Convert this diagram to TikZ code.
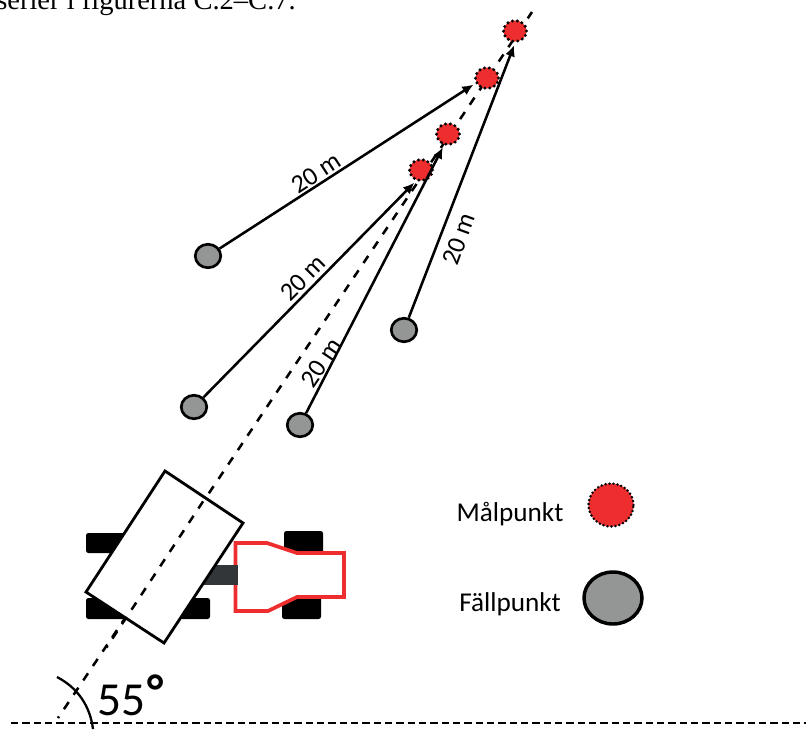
\documentclass[tikz,border=0pt]{standalone}
\usepackage{fontspec}
\setmainfont{Carlito}
\newfontfamily\bodyserif{Liberation Serif}
\usetikzlibrary{arrows.meta,shapes.geometric}
\definecolor{targetred}{HTML}{EE2E2E}
\definecolor{dropgray}{HTML}{949696}
\definecolor{hitchgray}{HTML}{333638}
\definecolor{frontred}{HTML}{EE2E2E}
\tikzset{
  target/.style={ellipse,inner sep=0pt,minimum width=23*0.75pt,minimum height=21*0.75pt,fill=targetred,
    draw=black,line width=2.5pt,line cap=round,dash pattern=on 0pt off 3.7pt},
  drop/.style={ellipse,inner sep=0pt,minimum width=25.5*0.75pt,minimum height=23.5*0.75pt,fill=dropgray,draw=black,line width=2pt},
  run/.style={line width=1.9pt,black,-{Latex[length=8.5pt,width=7.5pt]},shorten >=1.5pt},
  guide/.style={line width=1.9pt,black,dash pattern=on 6.4pt off 6.6pt,dash phase=5pt},
  base line/.style={line width=2pt,black,dash pattern=on 5.4pt off 3.1pt},
  tyre/.style={fill=black,rounded corners=1.8pt},
  dist/.style={font=\fontsize{19.5}{21}\selectfont,inner sep=0pt},
  legendlabel/.style={font=\fontsize{20.4}{23}\selectfont,inner sep=0pt}
}
\begin{document}
\begin{tikzpicture}[x=0.75pt,y=-0.75pt]
\useasboundingbox (0,0) rectangle (806,729);
% clipped line of running text above the figure
\begin{scope}
\clip (0,0) rectangle (806,729);
\node[anchor=base west,inner sep=0pt,font=\bodyserif\fontsize{21.4}{24}\selectfont] (caption) at (-4,9) {serier i figurerna C.2–C.7.};
\end{scope}

% reference lines and angle
\coordinate (gs) at (58,718);
\coordinate (ge) at (532,12);
\coordinate (hs) at (11,723);
\coordinate (he) at (806,723);
\draw[guide] (gs) -- (ge);
\draw[base line] (hs) -- (he);
\draw[line width=1.7pt] (57,677) .. controls (78,688) and (90,706) .. (93,729);
\node[anchor=base west,inner sep=0pt,font=\fontsize{35.5}{40}\selectfont] (angle) at (97,715) {55\kern2pt\raisebox{6pt}{\bfseries °}};

% tractor
\fill[tyre] (86,533) rectangle (130,553);
\fill[tyre] (86,598) rectangle (210,619);
\fill[tyre] (284,531) rectangle (323,556);
\fill[tyre] (282,592) rectangle (321,619);
\draw[line width=2.8pt,frontred,fill=white,line join=miter] (235.5,543) -- (267,543) -- (297,553) -- (344,553) -- (344,597) -- (297,597) -- (268,611) -- (235.5,611) -- cycle;
\fill[hitchgray] (203,565) rectangle (238,585);

% implement, with the driving line across it
\draw[line width=2.1pt,fill=white,line join=miter] (165,471) -- (243,523) -- (164,643) -- (86,592) -- cycle;
\draw[guide] (106.5,647.5) -- (204,500);

% drop points and target points
\node[target] (t1) at (515,31) {};
\node[target] (t2) at (487,78) {};
\node[target] (t3) at (448,134) {};
\node[target] (t4) at (421,170) {};
\node[drop] (d1) at (208,256) {};
\node[drop] (d2) at (194,407) {};
\node[drop] (d3) at (300,425) {};
\node[drop] (d4) at (404,330) {};
\draw[run] (d1) -- (t2.205);
\draw[run] (d2) -- (t4.245);
\draw[run] (d3) -- (t3.250);
\draw[run] (d4) -- (t1.south);

% distance labels
\node[dist,rotate=33] (l1) at (316,173) {20 m};
\node[dist,rotate=45] (l2) at (303,278) {20 m};
\node[dist,rotate=56] (l3) at (321,363) {20 m};
\node[dist,rotate=70] (l4) at (459,239) {20 m};

% legend
\node[legendlabel] (lt) at (510,514) {Målpunkt};
\node[legendlabel] (ld) at (510,604) {Fällpunkt};
\node[target,minimum width=45*0.75pt,minimum height=43*0.75pt,line width=2.1pt,dash pattern=on 0pt off 3pt] (kt) at (611,505) {};
\node[drop,minimum width=58*0.75pt,minimum height=52*0.75pt,line width=2.6pt] (kd) at (613,598) {};
\end{tikzpicture}
\end{document}
